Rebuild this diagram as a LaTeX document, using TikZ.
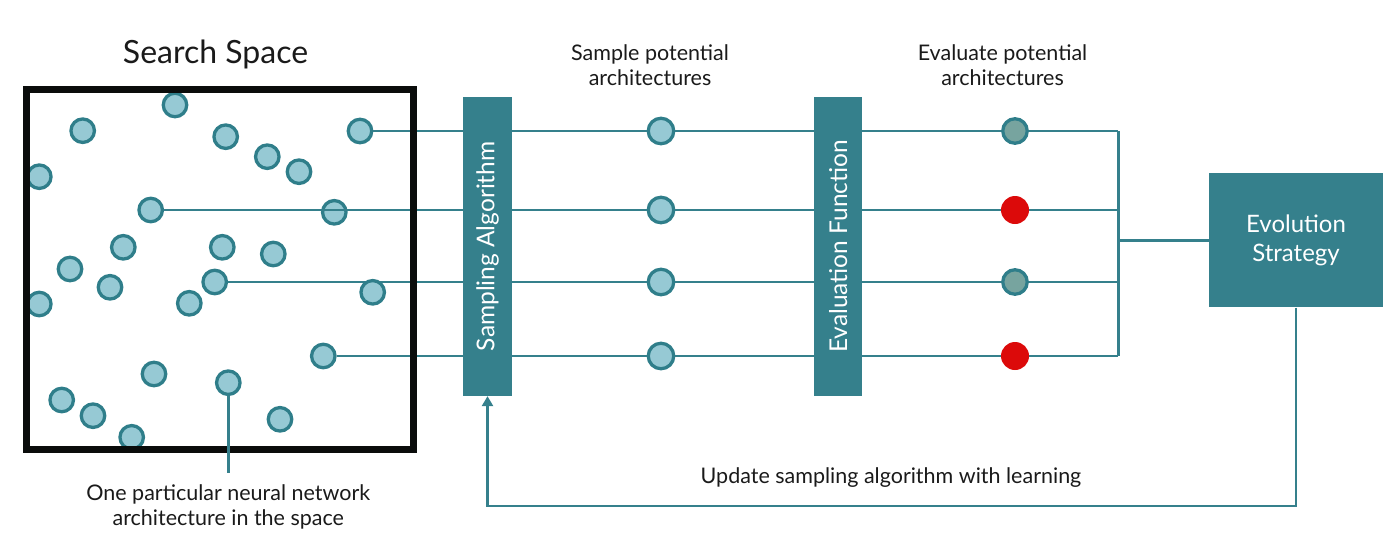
\documentclass[tikz,border=0pt]{standalone}
\usepackage{fontspec}
\setmainfont{Lato}
\usetikzlibrary{positioning,arrows.meta}
\definecolor{teal1}{HTML}{35808C}
\definecolor{dotfill}{HTML}{96C9D4}
\definecolor{dotline}{HTML}{2F7E8A}
\definecolor{evalgrey}{HTML}{77A49F}
\definecolor{hot}{HTML}{DC0A0A}
\definecolor{ink}{HTML}{1A1A1A}
\definecolor{frame}{HTML}{0A0C0B}

\begin{document}
\begin{tikzpicture}[x=1pt,y=-1pt,
	dot/.style = {draw=dotline, fill=dotfill, circle, line width=3.3pt, minimum size=23.5pt, inner sep=0pt},
	pick/.style = {dot, minimum size=25.5pt},
	good/.style = {dot, fill=evalgrey, minimum size=24.5pt},
	bad/.style = {circle, fill=hot, minimum size=28pt, inner sep=0pt},
	bar/.style = {fill=teal1, minimum width=48.4pt, minimum height=299.3pt, inner sep=0pt},
	bartext/.style = {text=white, rotate=90, font=\fontsize{24.5}{28}\selectfont},
	link/.style = {draw=teal1, line width=2.9pt},
	lbl/.style = {text=ink, align=center, font=\fontsize{21.5}{25}\selectfont, inner sep=0pt}]
	\useasboundingbox (0,0) rectangle (1400,555);
	% architectures in the search space
	\node[dot] (d1) at (175,105) {};
	\node[dot] (d2) at (82.7,130.7) {};
	\node[dot] (d3) at (225.7,136.7) {};
	\node[dot] (d4) at (267.3,156.7) {};
	\node[dot] (d5) at (299,171.7) {};
	\node[dot] (d6) at (39.3,176.7) {};
	\node[dot] (d7) at (334.3,212.3) {};
	\node[dot] (d8) at (123.3,247.3) {};
	\node[dot] (d9) at (222.3,247.3) {};
	\node[dot] (d10) at (273.3,254) {};
	\node[dot] (d11) at (70,269) {};
	\node[dot] (d12) at (110,287.3) {};
	\node[dot] (d14) at (39.3,304) {};
	\node[dot] (d15) at (189.3,303.3) {};
	\node[dot] (d16) at (154,374) {};
	\node[dot] (d17) at (228.3,382.7) {};
	\node[dot] (d18) at (61.7,400) {};
	\node[dot] (d19) at (93,415.7) {};
	\node[dot] (d20) at (131.7,437.3) {};
	\node[dot] (d21) at (280,419.3) {};
	\node[dot] (s1) at (360,131) {};
	\node[dot] (s2) at (150.7,210) {};
	\node[dot] (s3) at (214.7,282) {};
	\node[dot] (s4) at (323.3,356) {};
	% sampled and evaluated
	\node[pick] (p1) at (661,131) {};
	\node[pick] (p2) at (661,210) {};
	\node[pick] (p3) at (661,282) {};
	\node[pick] (p4) at (661,356) {};
	\node[good] (v1) at (1015,131) {};
	\node[bad] (v2) at (1015,210) {};
	\node[good] (v3) at (1015,282) {};
	\node[bad] (v4) at (1015,356) {};
	\node[fill=teal1, minimum width=174pt, minimum height=134pt, text=white, align=center, font=\fontsize{24}{28.5}\selectfont] (evo) at (1296,240.3) {Evolution\\Strategy};
	\coordinate (bus) at (1118.3,240.3);
	\draw[link] (s1)--(p1);
	\draw[link] (s2)--(p2);
	\draw[link] (s3)--(p3);
	\draw[link] (s4)--(p4);
	\draw[link] (p1)--(v1);
	\draw[link] (p2)--(v2);
	\draw[link] (p3)--(v3);
	\draw[link] (p4)--(v4);
	\draw[link] (v1)--(v1 -| bus);
	\draw[link] (v2)--(v2 -| bus);
	\draw[link] (v3)--(v3 -| bus);
	\draw[link] (v4)--(v4 -| bus);
	\draw[link] (v1 -| bus)--(v4 -| bus);
	\draw[link] (bus)--(evo);
	\node[dot] (d13) at (372.7,292.3) {};
	\node[bar] (samp) at (487.5,246.3) {};
	\node[bartext] (sampt) at (samp) {Sampling Algorithm};
	\node[bar] (eval) at (838.2,246.3) {};
	\node[bartext] (evalt) at (eval) {Evaluation Function};
	% search space frame
	\node[draw=frame, line width=7pt, minimum width=386.5pt, minimum height=360.5pt, inner sep=0pt] (space) at (219.75,269.25) {};
	\node[text=ink, font=\fontsize{32}{38}\selectfont] (title) at (215.5,54) {Search Space};
	\coordinate (pin) at (228.3,473);
	\draw[link] (d17)--(pin);
	\node[lbl] (note) at (228.3,507) {One particular neural network\\architecture in the space};
	\node[lbl] (samplbl) at (650,65) {Sample potential\\architectures};
	\node[lbl] (evallbl) at (1002.5,65) {Evaluate potential\\architectures};
	% feedback
	\coordinate (turn) at (1296,506);
	\draw[link, -{Triangle[length=10pt,width=11pt]}] (evo)--(turn)-|(samp);
	\node[lbl, anchor=base] (updlbl) at (891,483) {Update sampling algorithm with learning};
\end{tikzpicture}
\end{document}
